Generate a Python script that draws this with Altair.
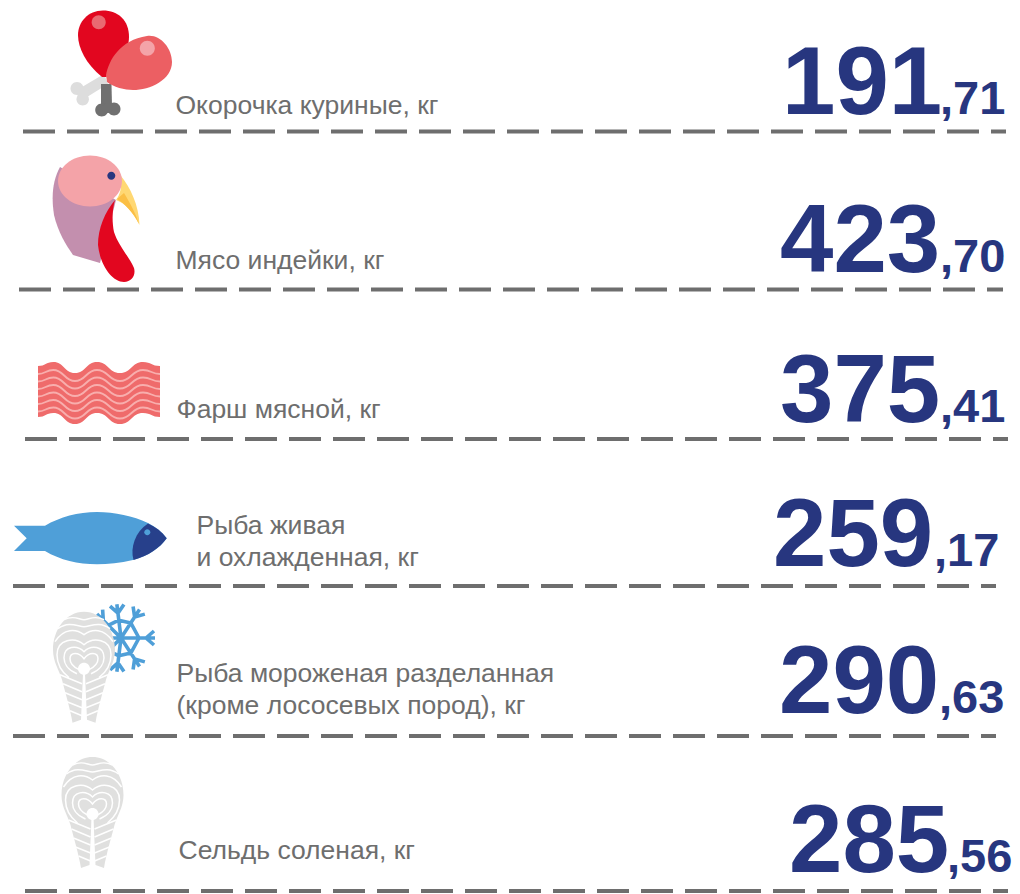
import re
import math
import altair as alt
import pandas as pd

# ---- content -------------------------------------------------------------
labels = [
    ["Окорочка куриные, кг"],
    ["Мясо индейки, кг"],
    ["Фарш мясной, кг"],
    ["Рыба живая", "и охлажденная, кг"],
    ["Рыба мороженая разделанная", "(кроме лососевых пород), кг"],
    ["Сельдь соленая, кг"],
]
values = [191.71, 423.70, 375.41, 259.17, 290.63, 285.56]

# ---- layout (reference pixels) --------------------------------------------
label_x = [175.5, 175.5, 176.5, 196.5, 176.5, 178.5]
label_base = [[114], [269], [418], [534, 566], [682, 714], [859]]
big_x = [782, 780, 780, 773, 779, 789]
big_base = [114, 272, 422, 566, 713, 872]
small_x = [940, 940, 940, 934, 939, 947]
small_base = [114, 272, 422, 566, 713, 872]
rule_y = [131.5, 289.5, 439, 586, 736, 891]
rule_x = [23, 19, 25, 13, 13, 25]
rule_x2 = [1006, 1003, 1008, 996, 996, 1008]

RED, PINK, PALE = "#E2061F", "#EC5F63", "#F4A3A8"
BLUE, NAVY, GREY = "#4F9FD8", "#27408B", "#E0E0DF"


def circle(cx, cy, r, ry=None):
    ry = r if ry is None else ry
    k = 0.5523
    return (f"M{cx-r},{cy} C{cx-r},{cy-k*ry} {cx-k*r},{cy-ry} {cx},{cy-ry} "
            f"C{cx+k*r},{cy-ry} {cx+r},{cy-k*ry} {cx+r},{cy} "
            f"C{cx+r},{cy+k*ry} {cx+k*r},{cy+ry} {cx},{cy+ry} "
            f"C{cx-k*r},{cy+ry} {cx-r},{cy+k*ry} {cx-r},{cy} Z")


def wave(y, close_to=None):
    pts = [(38, 4), (53.3, 0), (75, 11), (97, 0), (120, 11), (143, 0), (160, 4)]
    d = f"M{pts[0][0]},{y+pts[0][1]} "
    for (a, b), (c, e) in zip(pts, pts[1:]):
        m = (a + c) / 2
        d += f"C{m},{y+b} {m},{y+e} {c},{y+e} "
    if close_to is not None:
        rev = pts[::-1]
        d += f"L{rev[0][0]},{close_to+rev[0][1]} "
        for (a, b), (c, e) in zip(rev, rev[1:]):
            m = (a + c) / 2
            d += f"C{m},{close_to+b} {m},{close_to+e} {c},{close_to+e} "
        d += "Z"
    return d


def local(d, ax, ay):
    """Rewrite absolute path coordinates relative to the anchor of the point."""
    nums = iter([ax, ay] * 100000)
    def sub(m):
        return f"{float(m.group(0)) - next(nums):.2f}"
    return re.sub(r"-?\d+\.?\d*", sub, d)


STEAK_FILL = (
    "M0,0 C18,0 31,18 31,38 C31,50 25,58 22,68 C19,80 14,96 11.5,111 "
    "L3,108 L1,62 L-1,62 L-3,108 L-11.5,111 C-14,96 -19,80 -22,68 "
    "C-25,58 -31,50 -31,38 C-31,18 -18,0 0,0 Z"
)
STEAK_LINES = [
    "M-20,8 C-10,3 -5,8 0,8 C5,8 10,3 20,8",
    "M-26,17 C-15,9 -6,15 0,15 C6,15 15,9 26,17",
    "M-29,30 C-20,16 -8,17 0,23 C8,17 20,16 29,30",
    "M-15,66 C-25,58 -27,50 -27,43 C-27,27 -9,25 0,33 C9,25 27,27 27,43 C27,50 25,58 15,66",
    "M-7,62 C-17,58 -20,51 -20,46 C-20,34 -7,33 0,40 C7,33 20,34 20,46 C20,51 17,58 7,62",
    "M-5,58 C-11,55 -14,51 -14,47 C-14,40 -5,40 0,47 C5,40 14,40 14,47 C14,51 11,55 5,58",
    "M0,58 L0,109",
    "M2,72 L24,63", "M2,80 L21,72", "M2,88 L19,81", "M2,96 L17,90", "M2,104 L14,99",
    "M-2,72 L-24,63", "M-2,80 L-21,72", "M-2,88 L-19,81", "M-2,96 L-17,90", "M-2,104 L-14,99",
]


def translate(d, dx, dy):
    nums = iter([dx, dy] * 100000)
    return re.sub(r"-?\d+\.?\d*", lambda m: f"{float(m.group(0)) + next(nums):.2f}", d)


def snowflake(cx, cy):
    angles = [0, 57, 97, 135, 180, 225, 263, 303]
    def pt(deg, r, off=0.0):
        a = math.radians(deg)
        return (f"{cx + r*math.cos(a) + off*math.sin(a):.2f},"
                f"{cy - r*math.sin(a) + off*math.cos(a):.2f}")
    out = []
    for i, deg in enumerate(angles):
        nxt = angles[(i + 1) % len(angles)]
        out.append(f"M{pt(deg,0)} L{pt(deg,34)} M{pt(deg,25)} L{pt(deg,33,7)} M{pt(deg,25)} L{pt(deg,33,-7)}"
                   f" M{pt(deg,18)} L{pt(nxt,18)}")
    return " ".join(out)


fills = [
    # drumsticks
    ("M104,74 L108,84 L87,97 L82,87 Z", "#DDDDDD"),
    (circle(77, 88.5, 6.5), "#DDDDDD"),
    (circle(82.7, 99.3, 6.2), "#DDDDDD"),
    (circle(83, 93, 6), "#DDDDDD"),
    ("M101,84 L111.5,84 L112,107 L101,107 Z", "#707070"),
    (circle(101.7, 110, 6.5), "#707070"),
    (circle(114, 109, 6.5), "#707070"),
    (circle(107.5, 108, 5), "#707070"),
    ("M103,10.5 C88,10.5 78,22 78,35 C78,48 86,64 102,77 L106,77 C118,70 129,52 129,37 C129,20 118,10.5 103,10.5 Z", RED),
    (circle(98.7, 22.3, 7), "#E96A72"),
    ("M106,75 C109,60 120,40 147,36 C160,34 172,48 172,62 C172,80 150,90 133,90 C125,90 113,87 107,82 Z", PINK),
    (circle(147.3, 48.3, 7.5), PALE),
    # turkey
    ("M60,167 C53,180 51,195 54,215 C58,232 66,245 73,255 L100,263 L116,200 Z", "#C38FAE"),
    ("M121,176 C130,187 139,205 139.5,225 C133,212 125,203 116,200 C120,195 122,188 121,176 Z", "#FFD873"),
    ("M117,199 L124,193 C130,203 136,214 139,224 C133,212 125,204 117,199 Z", "#FBBF45"),
    (circle(90, 181, 32, 25.5), PALE),
    ("M115,200 C105,212 98,228 98,245 C100,265 112,282 124,282 C132,282 136,275 134,268 C130,258 118,245 114,232 C112,222 112,210 115,200 Z", RED),
    (circle(111.3, 175.7, 4), "#27367F"),
    # minced meat
    (wave(362, 413), "#EF6B6B"),
    # fish
    ("M14,525.7 L45,525.7 C60,517 78,512 97,512 C115,512 133,516 148,523 C156,527 162,532 166.7,538.3 "
     "C160,548 148,556 133,560 C120,563 108,564.3 97,564.3 C78,564.3 60,560 45,551 L14,551 L26.7,538.3 Z", BLUE),
    ("M148,523.5 C156,527 162,532 166.7,538.3 C160,548 148,556 133.5,560 C130,548 135,532 148,523.5 Z", NAVY),
    (circle(147.3, 532.3, 3), BLUE),
    # steaks
    (translate(STEAK_FILL, 84, 611.7), GREY),
    (circle(84, 668.7, 6), "#FFFFFF"),
    (translate(STEAK_FILL, 92.5, 757), GREY),
    (circle(92.5, 814, 6), "#FFFFFF"),
]
strokes = [(wave(370 + 7.5 * i), "#F8AEAD", 1.8) for i in range(6)]
for cx, cy in [(84, 611.7), (92.5, 757)]:
    strokes += [(translate(d, cx, cy), "#FFFFFF", 1.5) for d in STEAK_LINES]
under = [(snowflake(121, 638), BLUE, 3.6)]

W, H = 1004, 886
xs = alt.Scale(domain=[8, 8 + W], range=[0, W])
ys = alt.Scale(domain=[8, 8 + H], range=[0, H])
X = lambda f: alt.X(f, scale=xs, axis=None)
Y = lambda f: alt.Y(f, scale=ys, axis=None)

rules = pd.DataFrame({"y": rule_y, "x": rule_x, "x2": rule_x2})
rule_layer = alt.Chart(rules).mark_rule(
    color="#6E6E6E", strokeWidth=4, strokeDash=[32, 12]
).encode(x=X("x:Q"), x2="x2:Q", y=Y("y:Q"))

lab_rows = []
for lines, lx, bases in zip(labels, label_x, label_base):
    for t, b in zip(lines, bases):
        lab_rows.append({"t": t, "x": lx, "y": b})
lab_layer = alt.Chart(pd.DataFrame(lab_rows)).mark_text(
    font="Liberation Sans", fontSize=26.5, color="#6E6E6E", align="left", baseline="alphabetic"
).encode(x=X("x:Q"), y=Y("y:Q"), text="t:N")

whole = [f"{v:.2f}".split(".")[0] for v in values]
frac = ["," + f"{v:.2f}".split(".")[1] for v in values]
big = alt.Chart(pd.DataFrame({"t": whole, "x": big_x, "y": big_base})).mark_text(
    font="Liberation Sans", fontWeight="bold", fontSize=96, color="#27367F", align="left", baseline="alphabetic"
).encode(x=X("x:Q"), y=Y("y:Q"), text="t:N")
small = alt.Chart(pd.DataFrame({"t": frac, "x": small_x, "y": small_base})).mark_text(
    font="Liberation Sans", fontWeight="bold", fontSize=47, color="#27367F", align="left", baseline="alphabetic"
).encode(x=X("x:Q"), y=Y("y:Q"), text="t:N")


def stroke_layer(items):
    layers = []
    for d, c, w in items:
        ax, ay = 100, 400
        layers.append(alt.Chart(pd.DataFrame({"x": [ax], "y": [ay]})).mark_point(
            shape=local(d, ax, ay), size=4, filled=False, stroke=c, strokeWidth=w, opacity=1
        ).encode(x=X("x:Q"), y=Y("y:Q")))
    return layers


def fill_layer(items):
    ax, ay = 100, 400
    df = pd.DataFrame({
        "x": [ax] * len(items), "y": [ay] * len(items),
        "s": [local(d, ax, ay) for d, _ in items], "c": [c for _, c in items],
    })
    return alt.Chart(df).mark_point(filled=True, size=4, opacity=1).encode(
        x=X("x:Q"), y=Y("y:Q"),
        shape=alt.Shape("s:N", scale=None, legend=None),
        color=alt.Color("c:N", scale=None, legend=None),
    )


chart = alt.layer(
    *stroke_layer(under), fill_layer(fills), *stroke_layer(strokes),
    rule_layer, lab_layer, big, small,
).properties(width=W, height=H, padding=0, autosize=alt.AutoSizeParams(type="none")
).configure_view(stroke=None)

chart.save("out.html", embed_options={"renderer": "svg", "actions": False})
